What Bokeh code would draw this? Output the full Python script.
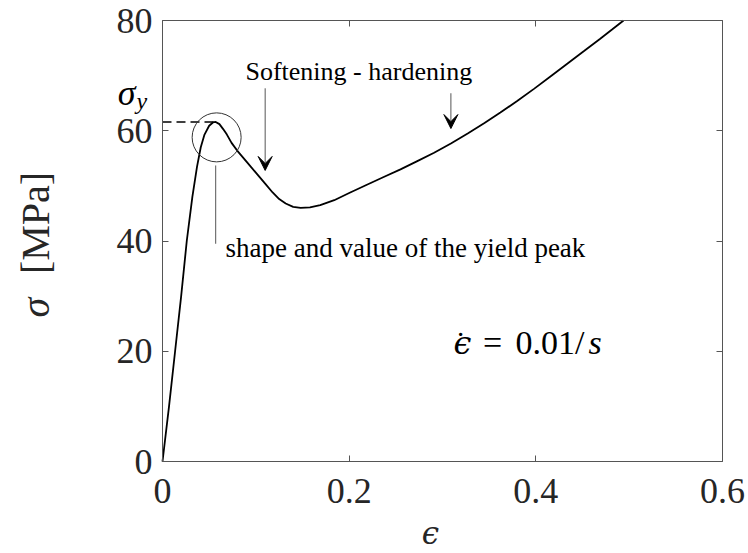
import math
from bokeh.plotting import figure
from bokeh.models import Label, Arrow, VeeHead, LinearAxis, FixedTicker
from bokeh.embed import file_html
from bokeh.resources import INLINE

# ---- data ----
strain = [0.0, 0.007, 0.0135, 0.020, 0.026, 0.032, 0.037, 0.041, 0.045, 0.050,
          0.054, 0.057, 0.061, 0.065, 0.069, 0.074, 0.080, 0.090, 0.100, 0.110,
          0.118, 0.125, 0.132, 0.140, 0.148, 0.158, 0.169, 0.184, 0.200, 0.219,
          0.237, 0.255, 0.273, 0.291, 0.309, 0.327, 0.345, 0.362, 0.380, 0.398,
          0.416, 0.434, 0.452, 0.469, 0.482, 0.494]
stress = [0.0, 10.0, 20.0, 30.0, 40.0, 48.0, 53.5, 57.0, 59.3, 60.9,
          61.5, 61.6, 61.2, 60.3, 59.3, 57.8, 56.4, 54.4, 52.4, 50.4,
          48.8, 47.6, 46.8, 46.2, 46.0, 46.1, 46.5, 47.4, 48.7, 50.2,
          51.6, 53.0, 54.5, 56.0, 57.7, 59.5, 61.4, 63.3, 65.4, 67.6,
          69.9, 72.2, 74.5, 76.7, 78.4, 80.0]

yield_strain = 0.057
yield_stress = 61.6

x_ticks = [0, 0.2, 0.4, 0.6]
x_tick_labels = ["0", "0.2", "0.4", "0.6"]
y_ticks = [0, 20, 40, 60, 80]
y_tick_labels = ["0", "20", "40", "60", "80"]
x_lim = (0, 0.6)
y_lim = (0, 80)

AX = "#555555"
TXT = "#262626"
SERIF = "Liberation Serif"
GREEK = "DejaVu Serif"

# the frame spans the whole canvas; the axes sit at fixed data locations
p = figure(width=748, height=553, x_range=(-0.17357, 0.62786),
           y_range=(-16.689, 83.628), output_backend="svg",
           toolbar_location=None, min_border=0,
           min_border_left=0, min_border_right=0,
           min_border_top=0, min_border_bottom=0)
p.grid.visible = False
p.outline_line_color = None
p.background_fill_color = "white"
p.border_fill_color = "white"

def style_axis(ax, ticks, labels, fixed, bounds, show_labels, standoff):
    ax.ticker = FixedTicker(ticks=ticks)
    ax.fixed_location = fixed
    ax.bounds = bounds
    ax.major_tick_in = 6
    ax.major_tick_out = 0
    ax.minor_tick_line_color = None
    ax.axis_line_color = AX
    ax.axis_line_width = 1
    ax.major_tick_line_color = AX
    ax.major_label_standoff = standoff
    if show_labels:
        ax.major_label_overrides = dict(zip(ticks, labels))
        ax.major_label_text_font = SERIF
        ax.major_label_text_font_size = "36px"
        ax.major_label_text_color = TXT
    else:
        ax.major_label_text_color = None

style_axis(p.xaxis[0], x_ticks, x_tick_labels, y_lim[0], x_lim, True, 17)
style_axis(p.yaxis[0], y_ticks, y_tick_labels, x_lim[0], y_lim, True, 10)

top = LinearAxis()
style_axis(top, x_ticks, x_tick_labels, y_lim[1], x_lim, False, 0)
p.add_layout(top, "above")
right = LinearAxis()
style_axis(right, y_ticks, y_tick_labels, x_lim[1], y_lim, False, 0)
p.add_layout(right, "right")

# curve
p.line(strain, stress, line_color="black", line_width=1.8)
# dashed yield level
p.line([0, yield_strain], [yield_stress, yield_stress], line_color="black",
       line_width=1.5, line_dash="9 5")
# circle around the yield peak
p.scatter([yield_strain + 0.001], [yield_stress - 2.8], marker="circle", size=49,
          fill_color=None, line_color="#333333", line_width=1)
# pointer line from the circle
p.line([yield_strain, yield_strain], [53.7, 39.5], line_color="#555555", line_width=1)

# arrows
for xs, y0, y1 in ((0.110, 67.7, 52.8), (0.309, 66.8, 60.4)):
    p.add_layout(Arrow(end=VeeHead(size=14, fill_color="black", line_color="black",
                                   line_width=1),
                       x_start=xs, y_start=y0, x_end=xs, y_end=y1,
                       line_color="#555555", line_width=1))

def lab(x, y, text, size, style="normal", align="left", baseline="alphabetic",
        angle=0.0, color="black", font=SERIF):
    p.add_layout(Label(x=x, y=y, text=text, text_font=font,
                       text_font_size=size, text_font_style=style,
                       text_align=align, text_baseline=baseline, angle=angle,
                       text_color=color))

lab(0.0889, 70.80, "Softening - hardening", "26px")
lab(0.0675, 38.75, "shape and value of the yield peak", "27px")

# sigma_y
lab(-0.0289, 66.76, "σ", "36px", style="italic", align="right")
lab(-0.0279, 65.43, "y", "24px", style="italic")

# strain-rate text
lab(0.3118, 21.41, "ϵ", "32px", style="italic", font=GREEK)
lab(0.3193, 21.41, "˙", "32px", align="center")
lab(0.3536, 21.50, "=", "34px", align="center")
lab(0.3782, 21.50, "0.01/", "34px")
lab(0.4564, 21.50, "s", "34px", style="italic")

# axis titles
lab(0.2871, -12.9, "ϵ", "31px", style="italic", align="center", color=TXT,
    font=GREEK)
lab(-0.1361, 26.12, "σ", "40px", style="italic", angle=math.pi / 2, color=TXT)
lab(-0.1361, 34.0, "[MPa]", "40px", angle=math.pi / 2, color=TXT)

open("out.html", "w").write(file_html(p, INLINE))
